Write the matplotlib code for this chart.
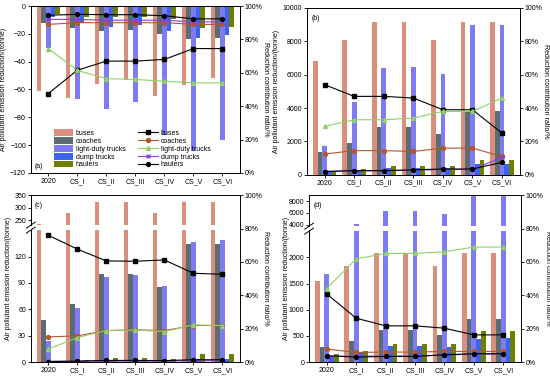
import numpy as np
import matplotlib
matplotlib.use("Agg")
from matplotlib import pyplot as plt
from matplotlib.ticker import FuncFormatter

scenarios = ["2020", "CS_I", "CS_II", "CS_III", "CS_IV", "CS_V", "CS_VI"]
vehicles = ["buses", "coaches", "light-duty trucks", "dump trucks", "haulers"]

# (a) emission reduction, tonne
a_buses = [-61, -66, -56, -53, -65, -57, -52]
a_coaches = [-12, -16, -18, -17, -20, -24, -23]
a_light = [-30, -67, -74, -69, -93, -104, -96]
a_dump = [-8, -12, -15, -14, -18, -23, -21]
a_haulers = [-6, -8, -8, -8, -9, -16, -15]
# (a) contribution ratio, %
a_r_buses = [47.5, 61.5, 67, 67, 68, 74.5, 74.5]
a_r_coaches = [89, 90, 90, 90, 90, 89, 89]
a_r_light = [74.5, 61.5, 56.5, 56, 55, 54, 54]
a_r_dump = [92, 92, 91.5, 91.5, 91.5, 90.5, 90.5]
a_r_haulers = [94.5, 95, 94.8, 94.8, 94.2, 92.3, 92.3]

# (b)
b_buses = [6800, 8100, 9150, 9150, 8100, 9150, 9150]
b_coaches = [1380, 1900, 2850, 2850, 2450, 3850, 3850]
b_light = [1720, 4350, 6420, 6450, 6050, 8950, 9000]
b_dump = [220, 300, 400, 400, 400, 650, 650]
b_haulers = [200, 320, 530, 530, 530, 900, 900]
b_r_buses = [54, 47, 47, 46, 39, 39, 25]
b_r_coaches = [12.5, 14.5, 14.5, 14, 16, 16, 11]
b_r_light = [29, 33, 33, 34, 38, 38, 46]
b_r_dump = [2, 2.5, 2.5, 2.8, 3.2, 3.2, 10.5]
b_r_haulers = [2, 2.5, 2.5, 3, 3.5, 3.5, 7.5]

# (c)
c_buses = [235, 280, 322, 322, 280, 322, 322]
c_coaches = [48, 66, 100, 100, 85, 134, 134]
c_light = [23.5, 62, 97, 99, 86, 136, 139]
c_dump = [1, 1.5, 2, 2, 2, 3, 3.5]
c_haulers = [0.8, 2.5, 5, 5, 4, 9, 9]
c_r_buses = [76, 67.7, 60.6, 60.4, 61.2, 53.2, 52.6]
c_r_coaches = [15.1, 15.7, 18.9, 19.3, 18.9, 21.9, 21.9]
c_r_light = [7.8, 14.7, 18.9, 19.1, 18.3, 22.3, 21.9]
c_r_dump = [0.5, 0.5, 0.6, 0.6, 0.6, 0.8, 0.8]
c_r_haulers = [0.3, 0.6, 1.0, 1.0, 0.9, 1.4, 1.4]

# (d)
d_buses = [1540, 1830, 2080, 2080, 1840, 2080, 2080]
d_coaches = [290, 400, 610, 610, 520, 820, 820]
d_light = [1680, 4200, 6300, 6300, 5900, 9000, 9000]
d_dump = [120, 200, 300, 300, 280, 450, 460]
d_haulers = [150, 220, 340, 340, 340, 590, 590]
d_r_buses = [40.8, 26.3, 21.7, 21.7, 20.3, 16.3, 16.3]
d_r_coaches = [7.8, 5.8, 6, 6, 6.4, 6.4, 6.4]
d_r_light = [44, 61.8, 65.1, 65.1, 66.1, 68.9, 68.9]
d_r_dump = [3.4, 3.6, 3.6, 3.6, 4.2, 4.8, 4.8]
d_r_haulers = [3.8, 3.0, 3.4, 3.4, 4.4, 5.0, 5.0]

bar_colors = ["#d98f7c", "#5b6d72", "#7d7cf4", "#3d63f3", "#6e7f00"]
line_colors = ["black", "#b5562e", "#8fd06a", "#8b3fd6", "black"]
line_markers = ["s", "o", "^", "x", "o"]

FS = 5
x = np.arange(len(scenarios))
w = 0.16

plt.rcParams["font.family"] = ["Liberation Sans", "DejaVu Sans"]
plt.rcParams["axes.linewidth"] = 0.7

fig = plt.figure(figsize=(5.5, 3.76), dpi=100)


def draw_bars(ax, series):
    hs = []
    for i, vals in enumerate(series):
        h = ax.bar(x + (i - 2) * w, vals, w, color=bar_colors[i], label=vehicles[i], zorder=2)
        hs.append(h)
    return hs


def draw_lines(ax, series):
    hs = []
    for i, vals in enumerate(series):
        h, = ax.plot(x, vals, color=line_colors[i], marker=line_markers[i], markersize=2.8,
                     linewidth=0.8, label=vehicles[i], zorder=3)
        hs.append(h)
    return hs


def pct_axis(ax):
    ax.set_ylim(0, 100)
    ax.set_yticks(range(0, 101, 20))
    ax.yaxis.set_major_formatter(FuncFormatter(lambda v, p: "%d%%" % v))
    ax.tick_params(labelsize=FS, length=2, width=0.6, pad=1.5)
    ax.set_ylabel("Reduction contribution ratio/%", fontsize=FS, rotation=270, labelpad=5)


def x_axis(ax):
    ax.set_xlim(-0.6, 6.6)
    ax.set_xticks(x)
    ax.set_xticklabels(scenarios, fontsize=FS)
    ax.tick_params(labelsize=FS, length=2, width=0.6, pad=1.5)


# ---- (a)
axa = fig.add_axes([0.056, 0.54, 0.38, 0.444])
bars = draw_bars(axa, [a_buses, a_coaches, a_light, a_dump, a_haulers])
axa.set_ylim(-120, 0)
axa.set_yticks(range(-120, 1, 20))
x_axis(axa)
axa.set_ylabel("Air pollutant emission reduction/(tonne)", fontsize=FS, labelpad=2)
axa2 = axa.twinx()
lines = draw_lines(axa2, [a_r_buses, a_r_coaches, a_r_light, a_r_dump, a_r_haulers])
pct_axis(axa2)
axa2.set_xlim(-0.6, 6.6)
axa2.text(0.02, 0.03, "(a)", transform=axa2.transAxes, fontsize=FS)
axa2.legend(bars + lines, vehicles + vehicles, ncol=2, loc="lower left", fontsize=FS,
            frameon=False, bbox_to_anchor=(0.08, -0.01), handlelength=2.8, handleheight=1.1,
            labelspacing=0.02, columnspacing=1.8, handletextpad=0.4)

# ---- (b)
axb = fig.add_axes([0.558, 0.535, 0.387, 0.444])
draw_bars(axb, [b_buses, b_coaches, b_light, b_dump, b_haulers])
axb.set_ylim(0, 10000)
axb.set_yticks(range(0, 10001, 2000))
x_axis(axb)
axb.set_ylabel("Air pollutant emission reduction/(tonne)", fontsize=FS, labelpad=2)
axb2 = axb.twinx()
draw_lines(axb2, [b_r_buses, b_r_coaches, b_r_light, b_r_dump, b_r_haulers])
pct_axis(axb2)
axb2.set_xlim(-0.6, 6.6)
axb2.text(0.02, 0.96, "(b)", transform=axb2.transAxes, fontsize=FS, va="top")


def broken_panel(left, width, bottom, height, low_frac, gap_frac, series, low_lim, high_lim,
                 low_ticks, high_ticks, ratios, label, lab_off):
    h_low = height * low_frac
    h_gap = height * gap_frac
    h_high = height - h_low - h_gap
    ax_lo = fig.add_axes([left, bottom, width, h_low])
    ax_hi = fig.add_axes([left, bottom + h_low + h_gap, width, h_high])
    for ax in (ax_lo, ax_hi):
        draw_bars(ax, series)
        ax.set_xlim(-0.6, 6.6)
        ax.spines["right"].set_visible(False)
        ax.tick_params(labelsize=FS, length=2, width=0.6, pad=1.5)
    ax_lo.set_ylim(*low_lim)
    ax_lo.set_yticks(low_ticks)
    ax_hi.set_ylim(*high_lim)
    ax_hi.set_yticks(high_ticks)
    ax_lo.spines["top"].set_visible(False)
    ax_hi.spines["bottom"].set_visible(False)
    ax_hi.tick_params(bottom=False, labelbottom=False)
    x_axis(ax_lo)
    # break marks
    d = 0.008
    kw = dict(transform=fig.transFigure, color="k", clip_on=False, linewidth=0.7)
    yb = bottom + h_low
    yt = yb + h_gap
    for yy in (yb, yt):
        fig.add_artist(plt.Line2D([left - d, left + d], [yy - d, yy + d], **kw))
    fig.text(left - lab_off, bottom + height / 2, "Air pollutant emission reduction/(tonne)",
             rotation=90, fontsize=FS, va="center", ha="center")
    ax_r = fig.add_axes([left, bottom, width, height], facecolor="none")
    draw_lines(ax_r, ratios)
    ax_r.set_xlim(-0.6, 6.6)
    ax_r.yaxis.tick_right()
    ax_r.yaxis.set_label_position("right")
    for s in ("left", "top", "bottom"):
        ax_r.spines[s].set_visible(False)
    ax_r.set_xticks([])
    pct_axis(ax_r)
    ax_r.text(0.02, 0.96, label, transform=ax_r.transAxes, fontsize=FS, va="top")


broken_panel(0.056, 0.38, 0.037, 0.444, 132 / 167, 5 / 167,
             [c_buses, c_coaches, c_light, c_dump, c_haulers],
             (0, 150), (230, 350), range(0, 121, 30), [250, 300, 350],
             [c_r_buses, c_r_coaches, c_r_light, c_r_dump, c_r_haulers], "(c)", 0.04)

broken_panel(0.562, 0.385, 0.037, 0.444, 131 / 167, 5 / 167,
             [d_buses, d_coaches, d_light, d_dump, d_haulers],
             (0, 2500), (3750, 9050), range(0, 2001, 500), [4000, 6000, 8000],
             [d_r_buses, d_r_coaches, d_r_light, d_r_dump, d_r_haulers], "(d)", 0.042)

fig.savefig("out.png", dpi=100)
